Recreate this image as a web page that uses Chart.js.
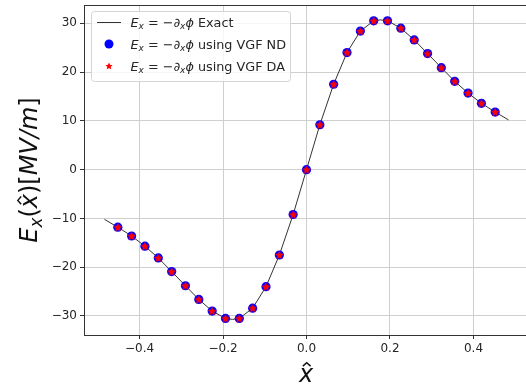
<!DOCTYPE html>
<html>
<head>
<meta charset="utf-8">
<script src="https://cdn.jsdelivr.net/npm/chart.js@4.4.1/dist/chart.umd.min.js"></script>
<style>
  html, body { margin: 0; padding: 0; background: #fff; overflow: hidden; }
  #wrap { width: 534px; height: 389px; }
</style>
</head>
<body>
<div id="wrap"><canvas id="chart" width="534" height="389"></canvas></div>
<script>
// sample points (x-hat) of the VGF solutions
const xHat = [-0.452, -0.419, -0.387, -0.355, -0.323, -0.290, -0.258, -0.226, -0.194, -0.161,
              -0.129, -0.097, -0.065, -0.032, 0.000, 0.032, 0.065, 0.097, 0.129, 0.161,
              0.194, 0.226, 0.258, 0.290, 0.323, 0.355, 0.387, 0.419, 0.452];
// E_x using VGF ND  [MV/m]
const eND = [-11.8, -13.6, -15.7, -18.1, -20.9, -23.8, -26.6, -29.0, -30.5, -30.5,
             -28.4, -24.0, -17.5, -9.2, 0.0, 9.2, 17.5, 24.0, 28.4, 30.5,
             30.5, 29.0, 26.6, 23.8, 20.9, 18.1, 15.7, 13.6, 11.8];
// E_x using VGF DA  [MV/m]
const eDA = [-11.8, -13.6, -15.7, -18.1, -20.9, -23.8, -26.6, -29.0, -30.5, -30.5,
             -28.4, -24.0, -17.5, -9.2, 0.0, 9.2, 17.5, 24.0, 28.4, 30.5,
             30.5, 29.0, 26.6, 23.8, 20.9, 18.1, 15.7, 13.6, 11.8];
// exact curve
const xExact = [-0.484, -0.452, -0.419, -0.387, -0.355, -0.323, -0.290, -0.258, -0.226, -0.194,
                -0.177, -0.161, -0.129, -0.097, -0.065, -0.032, 0.000, 0.032, 0.065, 0.097,
                0.129, 0.161, 0.177, 0.194, 0.226, 0.258, 0.290, 0.323, 0.355, 0.387,
                0.419, 0.452, 0.484];
const eExact = [-10.2, -11.8, -13.6, -15.7, -18.1, -20.9, -23.8, -26.6, -29.0, -30.5,
                -30.7, -30.5, -28.4, -24.0, -17.5, -9.2, 0.0, 9.2, 17.5, 24.0,
                28.4, 30.5, 30.7, 30.5, 29.0, 26.6, 23.8, 20.9, 18.1, 15.7,
                13.6, 11.8, 10.2];
const xTicks = [-0.4, -0.2, 0.0, 0.2, 0.4];
const yTicks = [-30, -20, -10, 0, 10, 20, 30];

const FONT = '"DejaVu Sans", sans-serif';
const TEXT = '#262626';

// filled five-point star used as the DA marker
function makeStar(r, color) {
  const s = Math.ceil(r * 2 + 2);
  const c = document.createElement('canvas');
  c.width = s; c.height = s;
  const g = c.getContext('2d');
  g.fillStyle = color;
  g.beginPath();
  for (let i = 0; i < 10; i++) {
    const a = -Math.PI / 2 + i * Math.PI / 5;
    const rr = i % 2 ? r * 0.47 : r;
    g.lineTo(s / 2 + rr * Math.cos(a), s / 2 + rr * Math.sin(a) + r * 0.08);
  }
  g.closePath();
  g.fill();
  return c;
}
const starMark = makeStar(4.7, '#ff0000');
const starLegend = makeStar(3.8, '#ff0000');

const pts = (xs, ys) => xs.map((x, i) => ({ x: x, y: ys[i] }));
const minus = v => (v < 0 ? '\u2212' : '');

// small mathtext-ish renderer
function fontOf(p, size) {
  const s = p.sub ? size * 0.7 : size;
  return (p.it ? 'italic ' : '') + s + 'px ' + FONT;
}
function mathWidth(ctx, parts, size) {
  let w = 0;
  parts.forEach(p => { ctx.font = fontOf(p, size); w += ctx.measureText(p.t).width; });
  return w;
}
function drawMath(ctx, parts, x, y, size) {
  let cx = x;
  parts.forEach(p => {
    ctx.font = fontOf(p, size);
    const w = ctx.measureText(p.t).width;
    ctx.fillText(p.t, cx, y + (p.sub ? size * 0.2 : 0));
    if (p.hat) {
      const mx = cx + w * 0.55, top = y - size * 0.8, h = size * 0.14, hw = size * 0.16;
      ctx.beginPath();
      ctx.moveTo(mx - hw, top + h); ctx.lineTo(mx, top); ctx.lineTo(mx + hw, top + h);
      ctx.lineWidth = size * 0.06;
      ctx.stroke();
    }
    cx += w;
  });
}

const lblBase = [
  { t: 'E', it: true }, { t: 'x', it: true, sub: true }, { t: ' = \u2212\u2202' },
  { t: 'x', it: true, sub: true }, { t: '\u03d5', it: true }
];
const legendRows = [
  { kind: 'line', parts: lblBase.concat([{ t: ' Exact' }]) },
  { kind: 'dot', parts: lblBase.concat([{ t: ' using VGF ND' }]) },
  { kind: 'star', parts: lblBase.concat([{ t: ' using VGF DA' }]) }
];

const decorations = {
  id: 'decorations',
  afterDraw(chart) {
    const ctx = chart.ctx;
    const a = chart.chartArea;
    ctx.save();
    // frame (top + right)
    ctx.strokeStyle = '#333';
    ctx.lineWidth = 1;
    ctx.beginPath();
    ctx.moveTo(a.left, a.top + 0.5); ctx.lineTo(a.right - 0.5, a.top + 0.5); ctx.lineTo(a.right - 0.5, a.bottom);
    ctx.stroke();

    // legend
    ctx.beginPath();
    ctx.roundRect(91.5, 11.5, 199, 70, 3);
    ctx.fillStyle = 'rgba(255,255,255,0.8)';
    ctx.fill();
    ctx.strokeStyle = '#d5d5d5';
    ctx.stroke();
    legendRows.forEach((row, i) => {
      const cy = 22 + i * 22;
      if (row.kind === 'line') {
        ctx.strokeStyle = '#333'; ctx.lineWidth = 1;
        ctx.beginPath(); ctx.moveTo(97, cy + 0.5); ctx.lineTo(121, cy + 0.5); ctx.stroke();
      } else if (row.kind === 'dot') {
        ctx.fillStyle = '#0000ff';
        ctx.beginPath(); ctx.arc(109, cy, 4.5, 0, Math.PI * 2); ctx.fill();
      } else {
        ctx.drawImage(starLegend, 109 - starLegend.width / 2, cy - starLegend.height / 2);
      }
      ctx.fillStyle = TEXT;
      ctx.strokeStyle = TEXT;
      ctx.textBaseline = 'alphabetic';
      drawMath(ctx, row.parts, 130.5, cy + 4.5, 12.8);
    });

    // axis titles
    ctx.fillStyle = '#111';
    ctx.strokeStyle = '#111';
    const xt = [{ t: 'x', it: true, hat: true }];
    drawMath(ctx, xt, 306 - mathWidth(ctx, xt, 24) / 2, 382, 24);

    const yt = [
      { t: 'E', it: true }, { t: 'x', it: true, sub: true }, { t: '(' },
      { t: 'x', it: true, hat: true }, { t: ')[' }, { t: 'MV/m', it: true }, { t: ']' }
    ];
    ctx.translate(37, 170);
    ctx.rotate(-Math.PI / 2);
    drawMath(ctx, yt, -mathWidth(ctx, yt, 24) / 2, 0, 24);
    ctx.restore();
  }
};

new Chart(document.getElementById('chart'), {
  type: 'scatter',
  data: {
    datasets: [
      {
        label: 'VGF DA',
        data: pts(xHat, eDA),
        pointStyle: starMark,
        pointRadius: 4,
        order: 0
      },
      {
        label: 'VGF ND',
        data: pts(xHat, eND),
        pointStyle: 'circle',
        pointRadius: 4.6,
        pointBackgroundColor: '#0000ff',
        pointBorderWidth: 0,
        order: 1
      },
      {
        label: 'Exact',
        data: pts(xExact, eExact),
        showLine: true,
        borderColor: '#333',
        borderWidth: 1,
        pointRadius: 0,
        order: 2
      }
    ]
  },
  options: {
    responsive: false,
    animation: false,
    layout: { padding: { top: 4, right: 2, left: 0, bottom: 0 } },
    plugins: { legend: { display: false }, tooltip: { enabled: false } },
    scales: {
      x: {
        type: 'linear',
        min: -0.533,
        max: 0.533,
        afterBuildTicks: s => { s.ticks = xTicks.map(v => ({ value: v })); },
        afterFit: s => { s.height = 54; s.paddingLeft = 0; s.paddingRight = 0; },
        ticks: {
          font: { family: FONT, size: 12 },
          color: TEXT,
          padding: 3,
          maxRotation: 0,
          callback: v => minus(v) + Math.abs(v).toFixed(1)
        },
        grid: { color: '#cfcfcf', lineWidth: 1, tickLength: 4, tickColor: '#333' },
        border: { color: '#333', width: 1 }
      },
      y: {
        type: 'linear',
        min: -33.9,
        max: 33.75,
        afterBuildTicks: s => { s.ticks = yTicks.map(v => ({ value: v })); },
        afterFit: s => { s.width = 84; s.paddingTop = 0; s.paddingBottom = 0; },
        ticks: {
          font: { family: FONT, size: 12 },
          color: TEXT,
          padding: 3,
          callback: v => minus(v) + Math.abs(v)
        },
        grid: { color: '#cfcfcf', lineWidth: 1, tickLength: 4, tickColor: '#333' },
        border: { color: '#333', width: 1 }
      }
    }
  },
  plugins: [decorations]
});
</script>
</body>
</html>
